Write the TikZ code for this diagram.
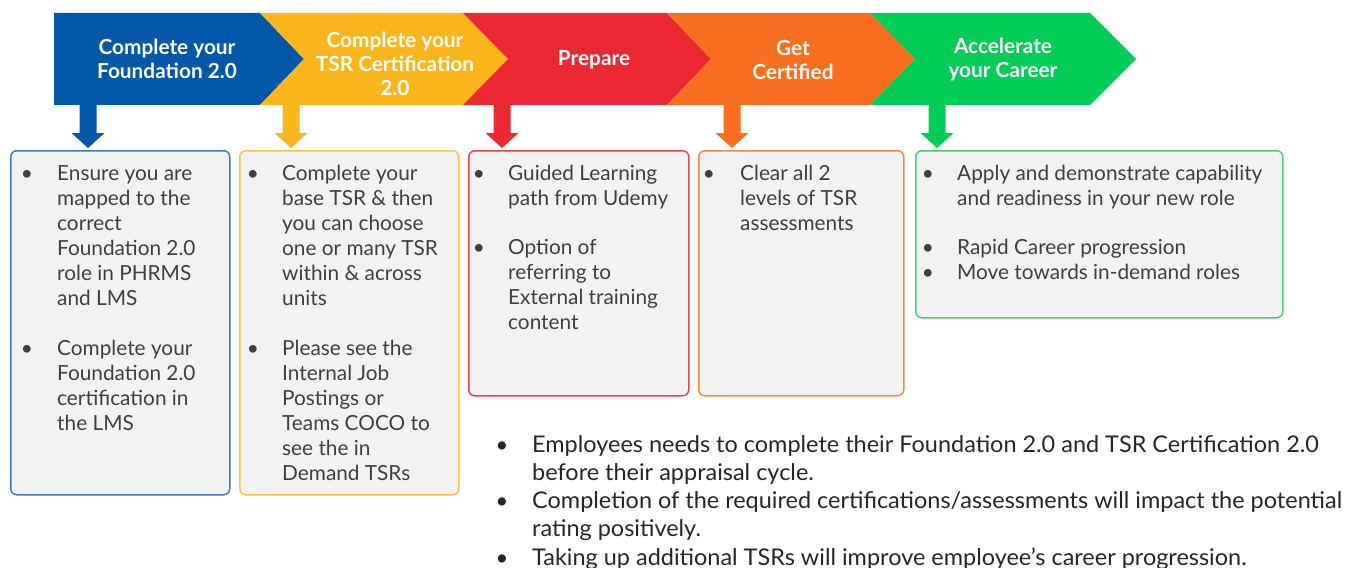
\documentclass[tikz,border=0pt]{standalone}
\usepackage{fontspec}
\setmainfont{Lato}
\newfontfamily\condfont[FakeStretch=1.02]{Lato}
\usetikzlibrary{calc}
\definecolor{cblue}{HTML}{0157A8}
\definecolor{cyellow}{HTML}{FBB61B}
\definecolor{cred}{HTML}{EC2833}
\definecolor{corange}{HTML}{FA6E1F}
\definecolor{cgreen}{HTML}{02CD56}
\definecolor{lblue}{HTML}{3A7CC4}
\definecolor{lyellow}{HTML}{FFC340}
\definecolor{lred}{HTML}{F0414E}
\definecolor{lorange}{HTML}{F8873F}
\definecolor{lgreen}{HTML}{40D272}
\definecolor{boxfill}{HTML}{F2F2F2}
\definecolor{txt}{HTML}{3F3F3F}
\definecolor{txtb}{HTML}{262626}
\newcommand\lns[1]{\begin{tabular}[t]{@{}l@{}}#1\end{tabular}}
\newcommand\blockarrow[3]{%
  \coordinate (#2e) at (#2 |- #3.north);
  \fill[#1] ($(#2)+(-8.5,0)$) -- ($(#2)+(8.5,0)$) -- ($(#2e)+(8.5,-17)$) -- ($(#2e)+(16.5,-17)$)
    -- ($(#2e)+(0,-2)$) -- ($(#2e)+(-16.5,-17)$) -- ($(#2e)+(-8.5,-17)$) -- cycle;}
\begin{document}
\begin{tikzpicture}[x=1pt,y=-1pt,
  hdr/.style={text=white,font={\fontsize{20.8}{24}\selectfont\bfseries},align=center,inner sep=0pt},
  box/.style={draw=#1,fill=boxfill,line width=1.5pt,rounded corners=6pt,anchor=north west,inner sep=0pt},
  item/.style={anchor=base west,inner sep=0pt,text=txt,font={\fontsize{20.8}{25}\selectfont}},
  dot/.style={anchor=base,inner sep=0pt,text=txt,font={\fontsize{20.8}{25}\selectfont}},
  bitem/.style={anchor=base west,inner sep=0pt,text=txtb,font={\condfont\fontsize{23}{28.3}\selectfont}},
  bdot/.style={anchor=base,inner sep=0pt,text=txtb,font={\fontsize{22}{28.3}\selectfont}}]
\useasboundingbox (0,0) rectangle (1364,567);
\fill[white] (0,0) rectangle (1364,567);
% chevrons
\fill[cblue] (54,13) -- (260,13) -- (304,59) -- (260,105) -- (54,105) -- cycle;
\fill[cyellow] (260,13) -- (463,13) -- (508,59) -- (463,105) -- (260,105) -- (304,59) -- cycle;
\fill[cred] (463,13) -- (667,13) -- (711,59) -- (667,105) -- (463,105) -- (508,59) -- cycle;
\fill[corange] (667,13) -- (870,13) -- (915,59) -- (870,105) -- (667,105) -- (711,59) -- cycle;
\fill[cgreen] (870,13) -- (1090,13) -- (1136,59) -- (1090,105) -- (870,105) -- (915,59) -- cycle;
\node[hdr] (h1) at (167,58.5) {Complete your\\Foundation 2.0};
\node[hdr] (h2) at (395,63.5) {Complete your\\TSR Certification\\2.0};
\node[hdr] (h3) at (594,60) {Prepare};
\node[hdr] (h4) at (793,60) {Get\\Certified};
\node[hdr] (h5) at (1003,60) {Accelerate\\your Career};
% boxes
\node[box=lblue,minimum width=219,minimum height=344] (b1) at (10,150) {};
\node[box=lyellow,minimum width=219,minimum height=344] (b2) at (239,150) {};
\node[box=lred,minimum width=220,minimum height=245] (b3) at (468,150) {};
\node[box=lorange,minimum width=205,minimum height=245] (b4) at (698,150) {};
\node[box=lgreen,minimum width=367,minimum height=167] (b5) at (915,150) {};
% block arrows
\coordinate (s1) at (88,105);
\coordinate (s2) at (291,105);
\coordinate (s3) at (502,105);
\coordinate (s4) at (732,105);
\coordinate (s5) at (937,105);
\blockarrow{cblue}{s1}{b1}
\blockarrow{cyellow}{s2}{b2}
\blockarrow{cred}{s3}{b3}
\blockarrow{corange}{s4}{b4}
\blockarrow{cgreen}{s5}{b5}
% box 1
\node[dot] (d11) at (27,180.5) {•};
\node[item] (t11) at (57,180.5) {\lns{Ensure you are\\mapped to the\\correct\\Foundation 2.0\\role in PHRMS\\and LMS}};
\node[dot] (d12) at (27,355.5) {•};
\node[item] (t12) at (57,355.5) {\lns{Complete your\\Foundation 2.0\\certification in\\the LMS}};
% box 2
\node[dot] (d21) at (253,180.5) {•};
\node[item] (t21) at (282,180.5) {\lns{Complete your\\base TSR \& then\\you can choose\\one or many TSR\\within \& across\\units}};
\node[dot] (d22) at (253,355.5) {•};
\node[item] (t22) at (282,355.5) {\lns{Please see the\\Internal Job\\Postings or\\Teams COCO to\\see the in\\Demand TSRs}};
% box 3
\node[dot] (d31) at (479,180.5) {•};
\node[item] (t31) at (508,180.5) {\lns{Guided Learning\\path from Udemy}};
\node[dot] (d32) at (479,254.5) {•};
\node[item] (t32) at (508,254.5) {\lns{Option of\\referring to\\External training\\content}};
% box 4
\node[dot] (d41) at (709,180.5) {•};
\node[item] (t41) at (740,180.5) {\lns{Clear all 2\\levels of TSR\\assessments}};
% box 5
\node[dot] (d51) at (928,180.5) {•};
\node[item] (t51) at (957,180.5) {\lns{Apply and demonstrate capability\\and readiness in your new role}};
\node[dot] (d52) at (928,254.5) {•};
\node[item] (t52) at (957,254.5) {Rapid Career progression};
\node[dot] (d53) at (928,279.5) {•};
\node[item] (t53) at (957,279.5) {Move towards in-demand roles};
% bottom notes
\node[bdot] (n1d) at (502,452) {•};
\node[bitem] (n1) at (532,452) {\lns{Employees needs to complete their Foundation 2.0 and TSR Certification 2.0\\before their appraisal cycle.}};
\node[bdot] (n2d) at (502,508.6) {•};
\node[bitem] (n2) at (532,508.6) {\lns{Completion of the required certifications/assessments will impact the potential\\rating positively.}};
\node[bdot] (n3d) at (502,565) {•};
\node[bitem] (n3) at (532,565) {Taking up additional TSRs will improve employee’s career progression.};
\end{tikzpicture}
\end{document}
